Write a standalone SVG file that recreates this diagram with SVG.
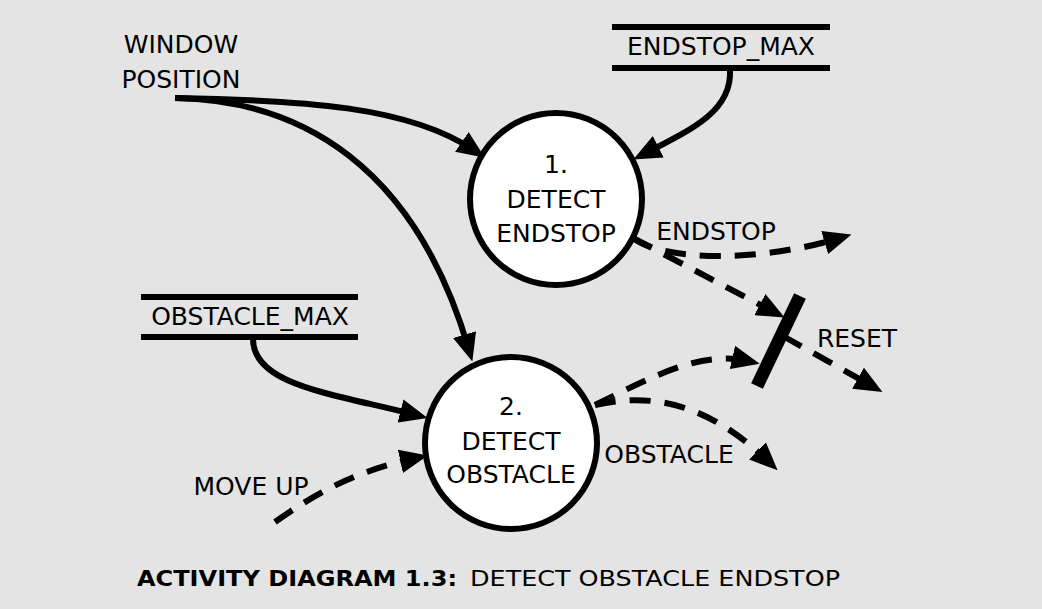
<svg xmlns="http://www.w3.org/2000/svg" width="1042" height="609" viewBox="0 0 1042 609">
<style>
text{font-family:"DejaVu Sans","Liberation Sans",sans-serif;font-size:25px;fill:#000;text-anchor:middle}
.proc{fill:#fff;stroke:#000;stroke-width:6}
.store{stroke:#000;stroke-width:6;fill:none}
.flow{fill:none;stroke:#000;stroke-width:6}
.dash{stroke-dasharray:21 14}
.cap{font-size:22px;text-anchor:start}
</style>
<defs>
<marker id="ah" viewBox="0 0 28 24" markerWidth="28" markerHeight="24" refX="16" refY="12" orient="auto" markerUnits="userSpaceOnUse">
<path d="M0,0 L28,12 L0,24 z" fill="#000"/>
</marker>
</defs>
<rect width="1042" height="609" fill="#e4e4e4"/>
<g id="connectors">
<path class="flow" d="M175,98 C300,100 410,106 475,151" marker-end="url(#ah)"/>
<path class="flow" d="M175,98 C300,100 415,165 469,350" marker-end="url(#ah)"/>
<path class="flow" d="M730,70 C732,110 695,128 644,154" marker-end="url(#ah)"/>
<path class="flow" d="M253,338 C252,385 330,393 416,415" marker-end="url(#ah)"/>
<path class="flow dash" d="M275,522 C320,490 360,470 416,458" marker-end="url(#ah)"/>
<path class="flow dash" d="M633,238 C665,262 760,262 840,238" marker-end="url(#ah)"/>
<path class="flow dash" d="M633,238 L774,312" marker-end="url(#ah)"/>
<path class="flow dash" d="M783,336 L872,386" marker-end="url(#ah)"/>
<path class="flow dash" d="M595,405 C650,378 700,350 748,361" marker-end="url(#ah)"/>
<path class="flow dash" d="M595,405 C640,395 700,395 769,462" marker-end="url(#ah)"/>
</g>
<g id="reset-bar">
<line x1="800" y1="296" x2="757" y2="386" stroke="#000" stroke-width="13"/>
</g>
<g id="window-position">
<text x="181" y="53">WINDOW</text>
<text x="181" y="88">POSITION</text>
</g>
<g id="endstop-max">
<line class="store" x1="612" y1="27" x2="830" y2="27"/>
<line class="store" x1="612" y1="68" x2="830" y2="68"/>
<text x="721" y="55">ENDSTOP_MAX</text>
</g>
<g id="obstacle-max">
<line class="store" x1="141" y1="297" x2="358" y2="297"/>
<line class="store" x1="141" y1="337" x2="358" y2="337"/>
<text x="250" y="325">OBSTACLE_MAX</text>
</g>
<g id="p1">
<circle class="proc" cx="556" cy="199" r="86"/>
<text x="556" y="173">1.</text>
<text x="556" y="208">DETECT</text>
<text x="556" y="242">ENDSTOP</text>
</g>
<g id="p2">
<circle class="proc" cx="511" cy="443" r="86"/>
<text x="511" y="415">2.</text>
<text x="511" y="450">DETECT</text>
<text x="511" y="483">OBSTACLE</text>
</g>
<g id="labels">
<text x="716" y="240">ENDSTOP</text>
<text x="857" y="347">RESET</text>
<text x="669" y="463">OBSTACLE</text>
<text x="251" y="495">MOVE UP</text>
</g>
<g id="caption">
<text class="cap" x="137" y="586" font-weight="bold" textLength="320" lengthAdjust="spacingAndGlyphs">ACTIVITY DIAGRAM 1.3:</text>
<text class="cap" x="470" y="586" textLength="370" lengthAdjust="spacingAndGlyphs">DETECT OBSTACLE ENDSTOP</text>
</g>
</svg>
